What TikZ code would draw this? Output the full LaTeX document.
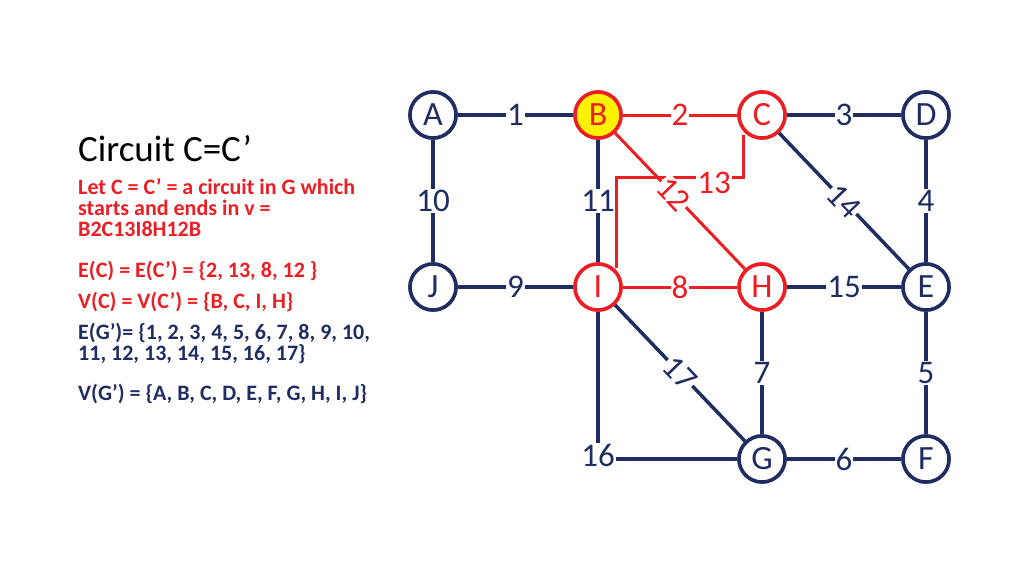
\documentclass[tikz,border=0pt]{standalone}
\usepackage{fontspec}
\setmainfont{Carlito}
\definecolor{navy}{RGB}{31,45,98}
\definecolor{cred}{RGB}{235,30,35}
\begin{document}
\begin{tikzpicture}[x=1pt,y=-1pt,
  vert/.style={circle, draw=navy, line width=3.5pt, fill=white, minimum size=46pt, inner sep=0pt, font=\fontsize{34}{34}\selectfont, text=navy},
  hot/.style={draw=cred, text=cred},
  edge/.style={navy, line width=3.5pt},
  redge/.style={cred, line width=3pt},
  lbl/.style={fill=white, inner sep=1pt, font=\fontsize{33}{33}\selectfont, text=navy},
  rlbl/.style={lbl, text=cred},
  txt/.style={anchor=base west, inner sep=0pt, font=\bfseries\fontsize{22}{22}\selectfont}
]
  \useasboundingbox (0,0) rectangle (1024,576);

  % text block
  \node[anchor=base west, inner sep=0pt, font=\fontsize{37}{37}\selectfont] (title) at (78,161) {Circuit C=C’};
  \node[txt, text=cred] (let1) at (78,194) {Let C = C’ = a circuit in G which};
  \node[txt, text=cred] (let2) at (78,215) {starts and ends in v =};
  \node[txt, text=cred] (let3) at (78,236) {B2C13I8H12B};
  \node[txt, text=cred] (ec) at (78,277) {E(C) = E(C’) = \{2, 13, 8, 12 \}};
  \node[txt, text=cred] (vc) at (78,308) {V(C) = V(C’) = \{B, C, I, H\}};
  \node[txt, text=navy] (eg1) at (78,339) {E(G’)= \{1, 2, 3, 4, 5, 6, 7, 8, 9, 10,};
  \node[txt, text=navy] (eg2) at (78,360) {11, 12, 13, 14, 15, 16, 17\}};
  \node[txt, text=navy] (vg) at (78,400) {V(G’) = \{A, B, C, D, E, F, G, H, I, J\}};

  % vertices
  \node[vert] (A) at (433,115) {A};
  \node[vert, hot, fill=yellow] (B) at (598,115) {B};
  \node[vert, hot] (C) at (762,115) {C};
  \node[vert] (D) at (926,115) {D};
  \node[vert] (J) at (433,287) {J};
  \node[vert, hot] (I) at (598,287) {I};
  \node[vert, hot] (H) at (762,287) {H};
  \node[vert] (E) at (926,287) {E};
  \node[vert] (G) at (762,459) {G};
  \node[vert] (F) at (926,459) {F};
  \coordinate (corner) at (598,459);
  \coordinate (c13s) at (743,135);
  \coordinate (c13a) at (743,177);
  \coordinate (c13b) at (616,177);
  \coordinate (c13e) at (616,268);

  % blue edges
  \draw[edge] (A) -- node[lbl] {1} (B);
  \draw[edge] (C) -- node[lbl] {3} (D);
  \draw[edge] (A) -- node[lbl] {10} (J);
  \draw[edge] (B) -- node[lbl] {11} (I);
  \draw[edge] (D) -- node[lbl] {4} (E);
  \draw[edge] (C) -- node[lbl, sloped] {14} (E);
  \draw[edge] (J) -- node[lbl] {9} (I);
  \draw[edge] (H) -- node[lbl] {15} (E);
  \draw[edge] (H) -- node[lbl] {7} (G);
  \draw[edge] (E) -- node[lbl] {5} (F);
  \draw[edge] (I) -- node[lbl, sloped] {17} (G);
  \draw[edge] (G) -- node[lbl] {6} (F);
  \draw[edge] (I) -- (corner) -- (G);
  \node[lbl] (l16) at (598,455) {16};
  % red circuit
  \draw[redge] (B) -- node[rlbl] {2} (C);
  \draw[redge] (I) -- node[rlbl] {8} (H);
  \draw[redge] (c13s) -- (c13a) -- (c13b) -- (c13e);
  \draw[redge] (B) -- node[rlbl, sloped, pos=0.45] {12} (H);
  \node[rlbl] (l13) at (714,183) {13};
  % redraw vertices on top
  \foreach \v in {A, D, J, E, G, F}
    \node[vert] at (\v) {\v};
  \node[vert, hot, fill=yellow] at (B) {B};
  \node[vert, hot] at (C) {C};
  \node[vert, hot] at (I) {I};
  \node[vert, hot] at (H) {H};
\end{tikzpicture}
\end{document}
